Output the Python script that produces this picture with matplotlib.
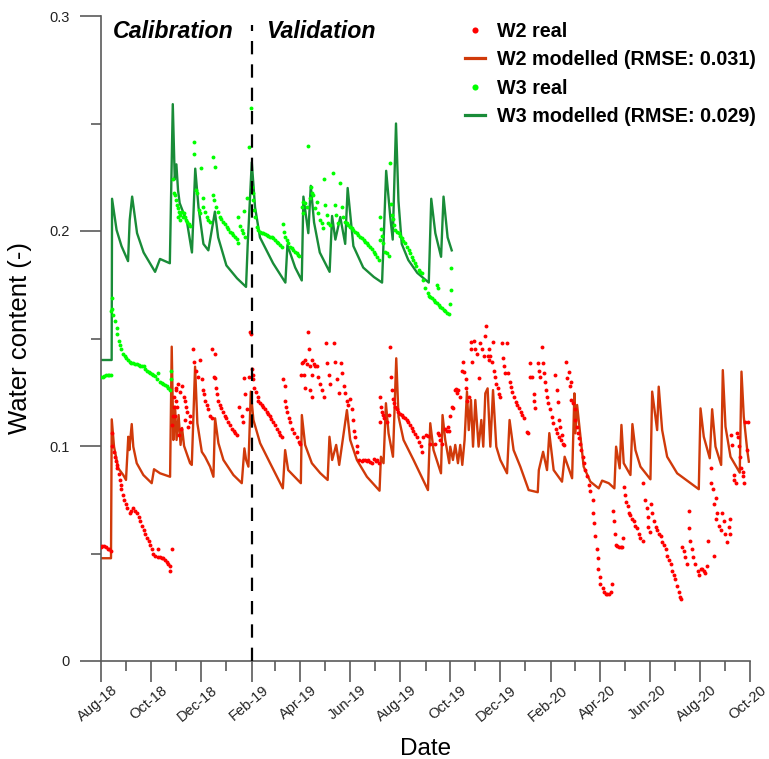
import numpy as np
import pandas as pd
import matplotlib
matplotlib.use("Agg")
import matplotlib.pyplot as plt
import matplotlib.dates as mdates
import matplotlib.transforms as mtransforms
from matplotlib.lines import Line2D

plt.rcParams['font.family'] = ['Liberation Sans', 'DejaVu Sans']

START = pd.Timestamp('2018-08-01')
SPLIT = pd.Timestamp('2019-02-01')
END = pd.Timestamp('2020-10-01')

# (days since 2018-08-01, water content)
w2_modelled = [
    (0, .0478), (12.2, .0478), (13.1, .1124), (15.9, .0997), (21.1, .0896), (27.2, .0865), (30.5, .0842),
    (33.3, .1043), (34.6, .0981), (37.5, .1102), (39.4, .0997), (43.6, .0920), (51.7, .0865), (61.9, .0827),
    (64.7, .0892), (72.1, .0873), (84.3, .0857), (86.3, .1462), (88.3, .1028), (90.4, .1183), (92.2, .1028),
    (94.7, .1144), (97.1, .1005), (98.9, .1084), (101.4, .1000), (108.7, .0920), (110.8, .0912), (114.8, .1369),
    (117.6, .1106), (123.0, .0973), (127.0, .0950), (133.1, .0904), (137.2, .0857), (139.2, .1129), (143.3, .1013),
    (149.4, .0935), (161.6, .0865), (171.8, .0827), (175.0, .0989), (177.1, .0935), (179.9, .0904), (182.8, .1253),
    (186.0, .1121), (194.2, .1013), (206.4, .0920), (221.9, .0803), (224.7, .0981), (228.4, .0888), (243.9, .0827),
    (245.1, .1144), (249.1, .1005), (257.3, .0920), (267.5, .0874), (276.6, .0842), (278.8, .1043), (282.1, .0935),
    (287.0, .1005), (290.7, .0912), (300.1, .1167), (304.1, .1028), (312.3, .0935), (324.5, .0857), (339.9, .0792),
    (341.6, .0950), (344.8, .0920), (347.7, .1199), (350.9, .1059), (356.3, .0950), (360.3, .1408), (363.1, .1136),
    (369.2, .1028), (381.4, .0935), (399.0, .0795), (401.8, .1106), (405.8, .0981), (414.9, .0873), (416.8, .1144),
    (420.1, .1028), (425.0, .0920), (426.2, .0997), (429.5, .0935), (432.3, .1005), (435.6, .0920), (438.4, .1005),
    (440.9, .0912), (443.7, .1028), (446.6, .1253), (448.8, .1074), (451.5, .1214), (454.0, .0997), (456.8, .1214),
    (460.8, .0997), (464.1, .1121), (466.5, .0997), (469.0, .1245), (471.8, .1268), (475.1, .0997), (478.4, .1260),
    (482.4, .0997), (487.3, .0935), (495.5, .0873), (498.6, .1121), (503.5, .0981), (511.7, .0904), (521.9, .0795),
    (533.0, .0785), (534.3, .0888), (539.5, .0973), (544.3, .0888), (547.1, .1060), (552.4, .0888), (562.6, .0834),
    (565.8, .0950), (574.9, .0850), (577.7, .1245), (578.9, .1059), (581.0, .1191), (589.0, .0904), (597.2, .0834),
    (607.4, .0803), (611.5, .0839), (619.6, .0827), (626.5, .0803), (628.6, .0997), (633.0, .0896), (635.1, .1098),
    (637.9, .0920), (646.1, .0865), (648.5, .1102), (652.2, .0981), (658.3, .0904), (670.5, .0845), (672.6, .1253),
    (678.7, .1074), (680.6, .1276), (684.8, .1074), (690.9, .0950), (703.1, .0873), (729.5, .0799), (731.6, .1175),
    (735.6, .1043), (742.9, .0943), (745.8, .1171), (749.9, .0997), (756.8, .0912), (758.8, .1353), (762.1, .1090),
    (768.2, .0950), (779.5, .0876), (781.6, .1346), (784.4, .1136), (788.6, .0981), (790.6, .0927),
]

w3_modelled = [
    (0, .140), (13, .140), (13.5, .215), (19, .2005), (25, .193), (33, .186), (35, .205), (38, .216), (44, .199),
    (52, .190), (66, .181), (72, .187), (84, .185), (87.6, .259), (90, .224), (92, .231), (94, .219), (96, .213),
    (105, .204), (111, .190), (115, .229), (119, .211), (125, .194), (131, .191), (139, .209), (143, .197),
    (153, .184), (166, .178), (177, .174), (179, .1935), (184, .232), (188, .211), (194, .197), (210, .185),
    (225, .176), (227.5, .1935), (237, .183), (245, .177), (247, .216), (253, .199), (256, .221), (260, .204),
    (267, .190), (279, .181), (282, .207), (286, .196), (292, .2065), (298, .194), (301, .220), (308, .193),
    (320, .183), (333, .1786), (343, .176), (348, .228), (353, .2065), (356, .196), (360, .250), (363, .214),
    (367, .194), (375, .1865), (386, .1805), (400, .176), (403, .215), (408, .199), (415, .188), (418, .216),
    (423, .197), (428, .191),
]

w2_real = [
    (0, .053), (1, .0535), (4, .0535), (6, .053), (8, .052), (10, .052), (12, .051),
    (13, .106), (14, .100), (16, .097), (17, .095), (18, .093), (19, .091), (20, .090), (22, .087), (23, .084),
    (24, .082), (25, .080), (27, .077), (28, .075), (30, .073), (32, .071), (35, .069), (37, .070), (39, .071),
    (42, .070), (44, .069), (46, .067), (48, .065), (50, .063), (52, .061), (54, .059), (56, .057), (58, .056),
    (60, .054), (62, .052), (64, .050), (66, .049), (69, .0485), (70, .052), (72, .0485), (74, .048), (76, .048),
    (78, .047), (80, .046), (82, .045), (84, .044), (84.5, .042), (87, .052),
    (87, .110), (88, .114), (88.5, .118), (89, .123), (90, .114), (91, .126), (91.5, .121), (92, .127), (93, .118),
    (94, .129), (95, .105), (97, .125), (98, .108), (99, .128), (101, .123), (102, .112), (103, .121), (104, .118),
    (105, .116), (106, .109), (108, .114), (109, .111),
    (112.5, .145), (113, .139), (116, .135), (118, .132), (121, .140), (123, .131), (124, .126), (126, .124),
    (127, .121), (129, .119), (131, .117), (133, .114), (135.5, .113),
    (136, .145), (139, .143), (138, .132), (139.5, .1315), (140, .127), (141, .124), (143, .121), (145, .119),
    (147, .1175), (149, .116), (151, .114), (153, .113), (155, .111), (158, .110), (160, .108), (162, .107),
    (164, .106), (166, .105),
    (169, .118), (172, .114), (173, .111), (175, .1315), (176, .124), (178, .117), (180, .132), (182, .153),
    (183, .152), (184, .136), (185, .133), (186, .131), (187, .127), (189, .125), (191, .123), (192, .121),
    (194, .120), (196, .119), (198, .118), (200, .117), (202, .116), (204, .115), (206, .114), (208, .1125),
    (210, .111), (212, .110), (215, .108), (217, .1065), (219, .105), (221, .104),
    (222, .131), (224, .128), (225, .121), (226, .118), (227, .116), (229, .113), (231, .111), (233, .108),
    (236, .106), (239, .104), (242, .102), (243, .101),
    (244, .133), (245, .1385), (247, .139), (247.5, .133), (249, .140), (249.5, .127), (251, .138), (253, .153),
    (254, .145), (255, .137), (255.5, .126), (257, .133), (257.5, .123), (258, .140), (260, .138), (261, .137),
    (263, .137), (265, .132), (267, .129), (270, .126), (272, .123), (274, .148), (276, .1385), (278, .133),
    (280, .129), (284, .148), (286, .139), (288, .131), (290, .1245), (293, .1385), (294, .134), (296, .128),
    (298, .1245),
    (300, .121), (302, .119), (304, .122), (306, .117), (307, .112), (309, .107), (310, .104), (312, .100),
    (313, .097), (315, .0935), (318, .093), (320, .0935), (322, .0935), (324, .093), (326, .0935), (328, .0925),
    (331, .092), (333, .094), (335, .093), (337, .0935), (339, .092),
    (340, .111), (341, .123), (342, .118), (343, .116), (344, .1145), (345, .113), (349, .111), (352, .1145),
    (353, .146), (354, .132), (355, .126), (356, .122), (357, .120), (359, .118), (361, .117), (363, .116),
    (365, .115), (367, .1145), (369, .1135), (371, .113), (373, .112), (375, .111), (377, .110), (379, .1085),
    (381, .107), (383, .1055), (386, .104), (388, .102), (390, .100), (392, .097),
    (393, .104), (397, .105), (398.5, .1045), (401, .101), (408, .101), (411, .106), (412, .105), (414, .103),
    (416, .101), (420, .108), (422, .107), (423, .109), (425, .107), (426, .114), (428, .118), (430, .1175),
    (432, .126), (433.5, .1265), (434, .1245), (436, .126), (438, .123), (441, .135), (442, .139), (443, .1345),
    (445, .131), (446, .127), (447, .121), (449, .123), (451, .145), (452, .1485), (453, .139), (455, .149),
    (457, .145), (459, .143), (461, .1315), (463, .148), (465, .145), (467, .142), (469, .151), (470, .156),
    (472, .142), (473, .140), (474, .145), (475, .142), (477, .139), (478, .1485), (480, .135), (481, .132),
    (482, .129), (484, .127), (486, .124), (487, .123), (489, .148), (491, .141), (492, .137), (493, .134),
    (495, .148), (497, .134), (499, .130), (500, .1275), (502, .125), (504, .123), (506, .1205), (508, .119),
    (510, .1175), (512, .116), (514, .1145), (516, .113), (520, .1065), (521, .106),
    (523, .1385), (524, .132), (526, .132), (528, .124), (529, .121), (530, .1175), (533, .1385), (535, .135),
    (536, .132), (538, .146), (539, .1385), (541, .134), (542, .130), (543, .126), (544, .123), (546, .120),
    (548, .117), (550, .1135), (552, .1105), (555, .108), (557, .106), (559, .104), (561, .103), (565, .1005),
    (554, .133), (556, .126), (558, .1205), (559.5, .112), (560, .109), (562, .105), (564, .101),
    (567, .139), (569, .1315), (571, .1345), (572, .128), (573, .1215), (574, .130), (576, .120), (578, .117),
    (579, .112), (581, .109), (582, .106), (583, .1035), (585, .101), (586, .098), (588, .095), (589, .092),
    (591, .089), (593, .086), (595, .082), (597, .079), (600, .075), (601, .069), (602, .064), (603, .058),
    (605, .052), (606, .048), (607, .043), (609, .039), (609.5, .036), (612, .034), (614, .032), (616, .031),
    (618, .031), (620, .031), (622, .032), (624, .036),
    (625, .070), (626, .065), (627, .059), (628, .054), (630, .0535), (632, .053), (634, .053), (636, .053),
    (637, .057), (638, .081), (640, .077), (641, .074), (643, .072), (644, .069), (646, .068), (648, .066),
    (650, .065), (652, .063), (654, .062), (656, .059), (658, .057), (661, .056),
    (662, .083), (664, .075), (666, .071), (667, .067), (668, .0625), (670, .060), (671, .073), (673, .069),
    (675, .065), (677, .0625), (679, .061), (681, .059), (683, .058), (685, .0555), (687, .054), (689, .052),
    (691, .049), (693, .047), (695, .045), (697, .042), (699, .040), (701, .038), (703, .035), (705, .032),
    (707, .030), (708, .029),
    (709, .053), (711, .051), (713, .0485), (715, .045), (717, .070), (718, .062), (719, .056), (721, .052),
    (723, .0485), (725, .045), (728, .042), (730, .040), (732, .043), (734, .043), (736, .042), (737, .041),
    (739, .044), (741, .056), (744, .090), (745, .083), (747, .080), (747.5, .049), (748, .073), (750, .076),
    (751, .066), (752, .069), (754, .063), (756, .061), (758, .069), (760, .065), (762, .059), (764, .0555),
    (766, .0625), (767, .059), (768, .066), (769, .105), (770, .1005), (772, .0865), (773, .084), (775, .083),
    (776, .106), (777, .104), (778, .100), (780, .095), (781, .090), (783, .086), (784, .088), (785, .083),
    (786, .111), (788, .098), (790, .111),
]

w3_real = [
    (0, .132), (2, .132), (4, .1325), (6, .133), (8, .133), (10, .133), (12, .133),
    (12, .163), (13, .1635), (14, .169), (15, .161), (17, .158), (19, .155), (20, .152), (22, .149), (23, .147),
    (25, .145), (27, .143), (29, .142), (31, .141), (33, .140), (35, .139), (37, .1385), (39, .1385), (41, .138),
    (44, .138), (46, .1375), (48, .137), (50, .137), (52, .137), (54, .136), (56, .135), (58, .1345), (60, .134),
    (62, .1335), (64, .133), (66, .1325), (68, .131), (70, .134), (72, .130), (74, .1295), (76, .129), (78, .1285),
    (80, .128), (82, .127), (84, .126), (85.5, .131), (86, .135),
    (87.5, .224), (89, .2175), (90, .2167), (91.6, .2144), (93, .2121), (94, .2067), (94.4, .2105), (95.6, .209),
    (96.5, .2074), (97, .2051), (98.5, .209), (99.8, .2067), (101.4, .2082), (102.6, .2067), (103.8, .2051),
    (105.4, .2043), (107.1, .2033), (108.7, .2025), (113.6, .2413), (113.9, .2358), (116, .2191), (117, .2175),
    (119, .2098), (121, .2082), (122, .2291), (124, .2152), (125, .2113), (127, .209), (129, .2067), (131, .2051),
    (133, .2043),
    (136.5, .2343), (137, .2167), (138, .2144), (139, .2296), (140.5, .2113), (143, .209), (145, .2067),
    (147, .2054), (149, .2043), (151, .2033), (153.5, .202), (155.5, .2008), (157.5, .1997), (159.6, .1989),
    (161.6, .1981), (163.7, .1971), (165.7, .1961), (167.7, .1946),
    (167.5, .2064), (169.8, .2023), (171.8, .2005), (173, .1989), (174.6, .2094), (175.9, .1974), (178, .2152),
    (181, .2392), (183.2, .2571), (184, .2206), (185.3, .2175), (186, .2144), (186.9, .2098), (188, .2067),
    (190.2, .202), (192.1, .2005), (194.2, .1997), (196.3, .1992), (198.2, .1989), (200.3, .1986), (202.4, .1981),
    (204.3, .1977), (206.4, .1974), (208.5, .1971), (210.4, .1966), (212.5, .1958), (214.6, .195), (216.5, .1943),
    (218.6, .1935), (220.7, .1927),
    (221.9, .2033), (223.5, .1997), (224.7, .1974), (226.8, .1958), (228.8, .1943), (230.8, .1927), (232.9, .192),
    (234.9, .1912), (236.9, .1904), (239, .1896), (241, .1888), (242.2, .1884),
    (245.1, .2113), (246.3, .2082), (247.1, .2136), (249.1, .2129), (251.2, .2113), (253.2, .2395), (255.3, .2152),
    (256.1, .2206), (257.3, .2175), (259.3, .2167), (261.4, .2105), (263.4, .2136), (264.6, .2082), (267.5, .2051),
    (269.5, .2036), (271.5, .2012), (272.7, .2242), (273.9, .2121), (275.6, .2074), (277.6, .2036), (280, .2028),
    (283.7, .2271), (285.8, .2121), (287, .2074), (289, .2036), (291.9, .2222), (294, .2113), (295.2, .2067),
    (298, .2043), (300, .2036), (302, .2028), (304.1, .202), (306, .2012), (308.1, .2005), (310, .1997),
    (312.3, .1989), (314, .1982), (316.3, .1974), (318, .1966), (320.4, .1958), (322, .195), (324.5, .1943),
    (326, .1935), (328.5, .1927), (330.5, .1915), (332.6, .1904), (334.5, .1892), (336.7, .1881), (338.7, .1865),
    (339.9, .1958), (340.7, .2064), (342, .2009), (342.8, .1977), (343.6, .1943), (346.8, .1904), (348.9, .1896),
    (350.9, .1884), (352.1, .2315), (353.8, .2126), (355, .2074), (355.8, .2054), (357, .2028), (359.1, .2005),
    (361, .1997), (363.1, .1989), (365, .1977), (367.2, .1966), (369, .1955), (371.3, .1943), (373, .1927),
    (375.3, .1912), (377, .1896), (379.4, .1881), (381, .1866), (383.5, .185), (385, .1835), (387.5, .1819),
    (389, .181), (391.7, .1803), (393, .177), (395.7, .1733), (398.5, .1713), (400, .170), (401.8, .1695),
    (404, .1687), (405.8, .1679), (408, .167), (410, .1664), (410, .1749), (411.2, .1733), (412, .1656),
    (414, .1648), (416, .164), (418, .1633), (420, .1627), (422.2, .162), (424.2, .1614), (426.2, .166),
    (427.1, .1826), (427.5, .1726),
]

labels = ['W2 real', 'W2 modelled (RMSE: 0.031)', 'W3 real', 'W3 modelled (RMSE: 0.029)']
colors = ['#ff0000', '#d03a0a', '#00ff00', '#198c38']


def split(series):
    days, vals = zip(*series)
    dates = START + pd.to_timedelta(np.asarray(days, dtype=float), unit='D')
    return dates, np.asarray(vals)


fig = plt.figure(figsize=(7.69, 7.59), dpi=100)
ax = fig.add_axes([101 / 769, 1 - 661 / 759, 649 / 769, 645 / 759])

for (real, model), i in [((w2_real, w2_modelled), 0), ((w3_real, w3_modelled), 2)]:
    d, v = split(model)
    ax.plot(d, v, color=colors[i + 1], lw=1.7, zorder=2)
    d, v = split(real)
    ax.plot(d, v, 'o', ls='none', ms=2.8, mew=0, color=colors[i], zorder=3)

ax.axvline(SPLIT, ymin=0, ymax=0.986, color='black', lw=1.6, dashes=(6, 4.5), zorder=4)

ax.annotate('Calibration', xy=(SPLIT, 0.293), xytext=(-13, 0), textcoords='offset points',
            ha='right', va='center', fontsize=16.7, fontweight='bold', fontstyle='italic')
ax.annotate('Validation', xy=(SPLIT, 0.293), xytext=(10, 0), textcoords='offset points',
            ha='left', va='center', fontsize=16.7, fontweight='bold', fontstyle='italic')

ax.set_xlim(START, END)
ax.set_ylim(0, 0.3)
for s in ['top', 'right']:
    ax.spines[s].set_visible(False)
for s in ['left', 'bottom']:
    ax.spines[s].set_color('#5a5a5a')
    ax.spines[s].set_linewidth(1.2)

ax.set_yticks([0, 0.1, 0.2, 0.3])
ax.set_yticklabels(['0', '0.1', '0.2', '0.3'])
ax.set_yticks([0.05, 0.15, 0.25], minor=True)
ax.xaxis.set_major_locator(mdates.MonthLocator(bymonth=[2, 4, 6, 8, 10, 12]))
ax.xaxis.set_minor_locator(mdates.MonthLocator(bymonth=[1, 3, 5, 7, 9, 11]))
ax.xaxis.set_major_formatter(mdates.DateFormatter('%b-%y'))
ax.tick_params(which='major', length=15, width=1.2, color='#5a5a5a', labelsize=10.5, labelcolor='#222222')
ax.tick_params(which='minor', length=7.5, width=1.2, color='#5a5a5a')
ax.tick_params(axis='y', which='major', pad=7.5)
ax.tick_params(axis='x', which='major', pad=1)

offset = mtransforms.ScaledTranslation(10 / 100, 0, fig.dpi_scale_trans)
for lab in ax.get_xticklabels():
    lab.set_rotation(40)
    lab.set_ha('right')
    lab.set_va('top')
    lab.set_rotation_mode('anchor')
    lab.set_transform(lab.get_transform() + offset)

ax.set_xlabel('Date', fontsize=17.5)
ax.set_ylabel('Water content (-)', fontsize=18.5)
ax.xaxis.set_label_coords(0.5, -0.120)
ax.yaxis.set_label_coords(-0.107, 0.5)

handles = [
    Line2D([], [], marker='o', ls='none', ms=4.4, mew=0, color=colors[0]),
    Line2D([], [], color=colors[1], lw=2.3),
    Line2D([], [], marker='o', ls='none', ms=4.4, mew=0, color=colors[2]),
    Line2D([], [], color=colors[3], lw=2.3),
]
leg = ax.legend(handles, labels, loc='upper left', bbox_to_anchor=(465 / 769, 1 - 22 / 759),
                bbox_transform=fig.transFigure, frameon=False, borderpad=0, borderaxespad=0,
                handlelength=1.0, handletextpad=0.6, labelspacing=0.47,
                prop={'size': 14.2, 'weight': 'bold'})

fig.savefig('out.png', dpi=100)
